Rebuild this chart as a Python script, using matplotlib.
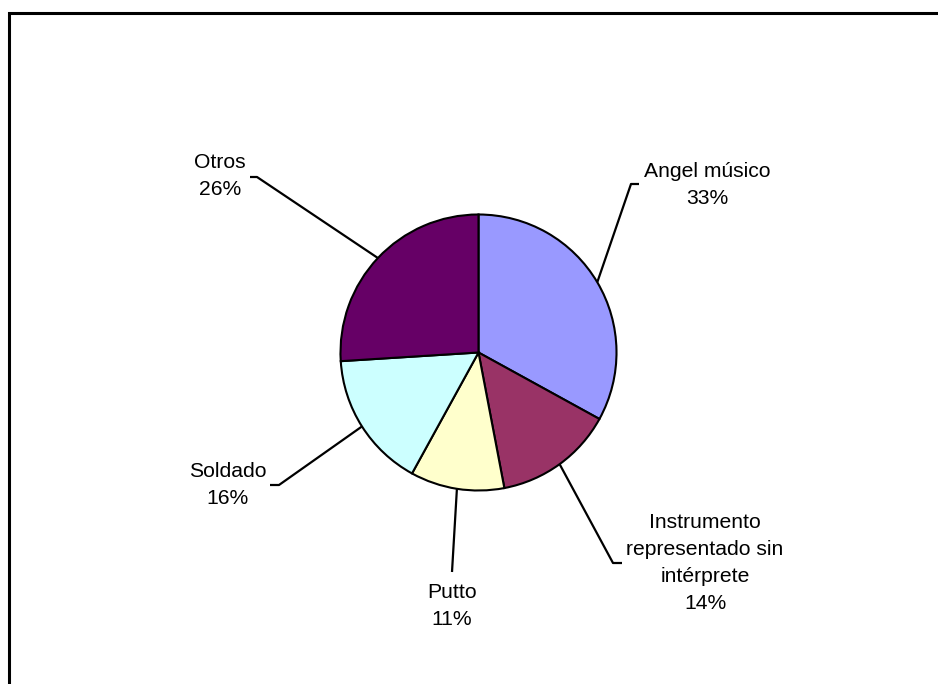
"""
Pie chart of the figures represented (Angel músico, Instrumento, Putto, ...).
"""

import numpy as np
import matplotlib
matplotlib.use("Agg")
import matplotlib.pyplot as plt
from matplotlib.patches import Rectangle

categories = ["Angel músico", "Instrumento\nrepresentado sin\nintérprete",
              "Putto", "Soldado", "Otros"]
shares = [33, 14, 11, 16, 26]
colors = ["#9999FF", "#993366", "#FFFFCC", "#CCFFFF", "#660066"]

# label layout in pixel coords (x, y from top) and leader elbow / end points
label_pos = [(707, 185), (705, 563), (452, 606), (228, 485), (220, 176)]
elbow_pos = [(631, 184), (613, 563), (452, 572), (279, 485), (257, 177)]
end_pos = [(639, 184), (622, 563), (452, 572), (270, 485), (250, 177)]

W, H = 938, 684
center = (478.5, H - 352.5)
radius = 138

fig = plt.figure(figsize=(W / 100, H / 100), dpi=100)
ax = fig.add_axes([0, 0, 1, 1])

wedges, _ = ax.pie(
    shares,
    colors=colors,
    startangle=90,
    counterclock=False,
    center=center,
    radius=radius,
    wedgeprops={"edgecolor": "black", "linewidth": 1.5},
)
ax.set_xlim(0, W)
ax.set_ylim(0, H)
ax.set_aspect("equal")
ax.axis("off")

for w, name, val, lp, ep, en in zip(wedges, categories, shares,
                                    label_pos, elbow_pos, end_pos):
    mid = np.deg2rad((w.theta1 + w.theta2) / 2)
    x0 = center[0] + radius * np.cos(mid)
    y0 = center[1] + radius * np.sin(mid)
    ax.plot([x0, ep[0], en[0]], [y0, H - ep[1], H - en[1]],
            color="black", lw=1.6, solid_capstyle="butt")
    ax.text(lp[0], H - lp[1], f"{name}\n{val}%", ha="center", va="center",
            fontsize=15.2, family="Liberation Sans", linespacing=1.52)

# chart area border (only top and left edges are visible)
fig.add_artist(Rectangle((9 / W, -0.1), 1.2, 1.1 - 13 / H,
                         transform=fig.transFigure, fill=False,
                         edgecolor="black", linewidth=2.2))

plt.savefig("out.png", dpi=100)
